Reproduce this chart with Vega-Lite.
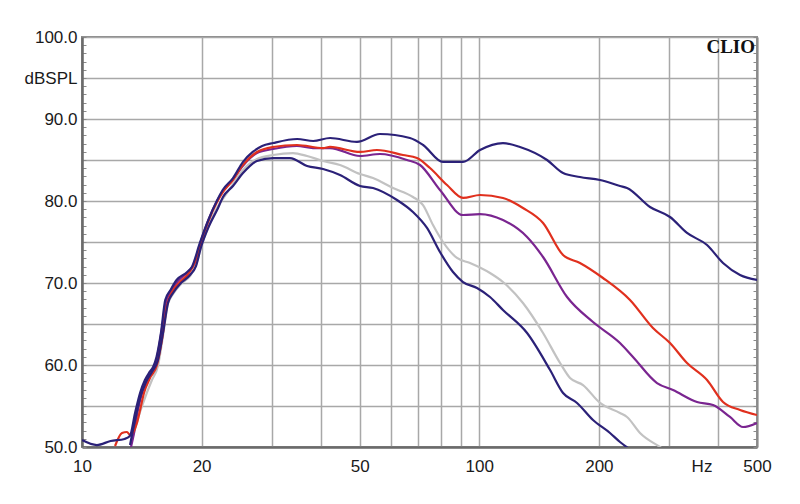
{
  "$schema": "https://vega.github.io/schema/vega-lite/v6.json",
  "autosize": {"type": "none"},
  "padding": {"left": 82, "top": 37, "right": 43, "bottom": 57},
  "width": 675,
  "height": 410,
  "background": "white",
  "config": {"view": {"stroke": "#8a8a8a", "strokeWidth": 2}},
  "datasets": {
    "curves": [
      {"series":"a_gray","hz":13.36,"db":50.85},{"series":"a_gray","hz":14.0,"db":54.27},{"series":"a_gray","hz":14.49,"db":56.34},{"series":"a_gray","hz":15.0,"db":58.17},{"series":"a_gray","hz":15.53,"db":59.88},{"series":"a_gray","hz":15.99,"db":63.54},{"series":"a_gray","hz":16.46,"db":67.44},{"series":"a_gray","hz":16.95,"db":68.66},{"series":"a_gray","hz":17.75,"db":69.88},{"series":"a_gray","hz":18.7,"db":70.85},{"series":"a_gray","hz":19.36,"db":72.2},{"series":"a_gray","hz":19.94,"db":74.39},{"series":"a_gray","hz":20.88,"db":77.07},{"series":"a_gray","hz":22.0,"db":79.39},{"series":"a_gray","hz":22.9,"db":80.61},{"series":"a_gray","hz":23.99,"db":82.07},{"series":"a_gray","hz":25.42,"db":83.78},{"series":"a_gray","hz":27.57,"db":85.12},{"series":"a_gray","hz":30.26,"db":85.61},{"series":"a_gray","hz":33.97,"db":85.85},{"series":"a_gray","hz":36.85,"db":85.49},{"series":"a_gray","hz":40.43,"db":84.88},{"series":"a_gray","hz":44.6,"db":84.39},{"series":"a_gray","hz":50.09,"db":83.29},{"series":"a_gray","hz":54.01,"db":82.8},{"series":"a_gray","hz":60.65,"db":81.59},{"series":"a_gray","hz":68.08,"db":80.49},{"series":"a_gray","hz":72.17,"db":79.51},{"series":"a_gray","hz":76.47,"db":77.07},{"series":"a_gray","hz":81.04,"db":75.0},{"series":"a_gray","hz":87.88,"db":73.05},{"series":"a_gray","hz":94.76,"db":72.44},{"series":"a_gray","hz":106.4,"db":71.22},{"series":"a_gray","hz":114.7,"db":70.12},{"series":"a_gray","hz":128.8,"db":67.56},{"series":"a_gray","hz":144.7,"db":63.9},{"series":"a_gray","hz":159.7,"db":60.24},{"series":"a_gray","hz":169.2,"db":58.41},{"series":"a_gray","hz":182.4,"db":57.56},{"series":"a_gray","hz":201.3,"db":55.37},{"series":"a_gray","hz":226,"db":54.15},{"series":"a_gray","hz":235.4,"db":53.66},{"series":"a_gray","hz":253.8,"db":51.71},{"series":"a_gray","hz":284.9,"db":50.0},{"series":"a_gray","hz":293,"db":49.6},
      {"series":"b_purple","hz":13.21,"db":49.5},{"series":"b_purple","hz":13.52,"db":51.71},{"series":"b_purple","hz":13.83,"db":54.51},{"series":"b_purple","hz":14.16,"db":56.59},{"series":"b_purple","hz":14.66,"db":58.41},{"series":"b_purple","hz":15.36,"db":60.37},{"series":"b_purple","hz":15.8,"db":63.66},{"series":"b_purple","hz":16.27,"db":67.68},{"series":"b_purple","hz":16.76,"db":69.02},{"series":"b_purple","hz":17.44,"db":70.24},{"series":"b_purple","hz":18.47,"db":71.34},{"series":"b_purple","hz":19.14,"db":72.32},{"series":"b_purple","hz":19.82,"db":74.76},{"series":"b_purple","hz":20.76,"db":77.56},{"series":"b_purple","hz":21.87,"db":80.0},{"series":"b_purple","hz":22.64,"db":81.22},{"series":"b_purple","hz":23.99,"db":82.68},{"series":"b_purple","hz":25.42,"db":84.3},{"series":"b_purple","hz":27.57,"db":85.85},{"series":"b_purple","hz":30.26,"db":86.34},{"series":"b_purple","hz":34.76,"db":86.71},{"series":"b_purple","hz":38.15,"db":86.46},{"series":"b_purple","hz":42.09,"db":86.46},{"series":"b_purple","hz":50.09,"db":85.49},{"series":"b_purple","hz":56.24,"db":85.73},{"series":"b_purple","hz":65.78,"db":85.0},{"series":"b_purple","hz":70.94,"db":84.39},{"series":"b_purple","hz":79.62,"db":81.34},{"series":"b_purple","hz":91.0,"db":78.29},{"series":"b_purple","hz":100.4,"db":78.41},{"series":"b_purple","hz":114.7,"db":77.68},{"series":"b_purple","hz":131.9,"db":75.61},{"series":"b_purple","hz":144.7,"db":73.17},{"series":"b_purple","hz":166.3,"db":68.29},{"series":"b_purple","hz":193.3,"db":65.24},{"series":"b_purple","hz":226,"db":62.68},{"series":"b_purple","hz":243.7,"db":60.98},{"series":"b_purple","hz":280.1,"db":57.8},{"series":"b_purple","hz":307.3,"db":56.95},{"series":"b_purple","hz":353.2,"db":55.49},{"series":"b_purple","hz":387.5,"db":55.12},{"series":"b_purple","hz":427.6,"db":53.66},{"series":"b_purple","hz":461.1,"db":52.44},{"series":"b_purple","hz":500,"db":52.93},
      {"series":"c_red","hz":12.11,"db":50.12},{"series":"c_red","hz":12.61,"db":51.71},{"series":"c_red","hz":12.98,"db":51.83},{"series":"c_red","hz":13.21,"db":51.46},{"series":"c_red","hz":13.75,"db":52.93},{"series":"c_red","hz":14.0,"db":54.51},{"series":"c_red","hz":14.32,"db":56.59},{"series":"c_red","hz":14.83,"db":58.41},{"series":"c_red","hz":15.44,"db":60.0},{"series":"c_red","hz":15.89,"db":63.05},{"series":"c_red","hz":16.37,"db":67.32},{"series":"c_red","hz":16.85,"db":68.9},{"series":"c_red","hz":17.65,"db":70.12},{"series":"c_red","hz":18.59,"db":71.22},{"series":"c_red","hz":19.25,"db":72.56},{"series":"c_red","hz":19.82,"db":74.63},{"series":"c_red","hz":20.76,"db":77.44},{"series":"c_red","hz":21.87,"db":79.88},{"series":"c_red","hz":22.64,"db":81.1},{"series":"c_red","hz":23.99,"db":82.56},{"series":"c_red","hz":25.42,"db":84.4},{"series":"c_red","hz":27.57,"db":85.98},{"series":"c_red","hz":30.26,"db":86.59},{"series":"c_red","hz":34.76,"db":86.83},{"series":"c_red","hz":40.43,"db":86.46},{"series":"c_red","hz":42.09,"db":86.59},{"series":"c_red","hz":50.09,"db":85.98},{"series":"c_red","hz":55.27,"db":86.22},{"series":"c_red","hz":64.27,"db":85.61},{"series":"c_red","hz":69.69,"db":85.24},{"series":"c_red","hz":75.15,"db":84.02},{"series":"c_red","hz":82.94,"db":81.95},{"series":"c_red","hz":91.0,"db":80.37},{"series":"c_red","hz":100.4,"db":80.73},{"series":"c_red","hz":114.7,"db":80.37},{"series":"c_red","hz":128.8,"db":79.15},{"series":"c_red","hz":144.7,"db":77.32},{"series":"c_red","hz":162.5,"db":73.41},{"series":"c_red","hz":179.2,"db":72.44},{"series":"c_red","hz":204.8,"db":70.61},{"series":"c_red","hz":239.5,"db":67.93},{"series":"c_red","hz":273.6,"db":64.51},{"series":"c_red","hz":302,"db":62.68},{"series":"c_red","hz":333.3,"db":60.24},{"series":"c_red","hz":374.3,"db":58.17},{"series":"c_red","hz":410.6,"db":55.49},{"series":"c_red","hz":453.2,"db":54.51},{"series":"c_red","hz":500,"db":53.9},
      {"series":"d_navy1","hz":10,"db":50.85},{"series":"d_navy1","hz":10.9,"db":50.24},{"series":"d_navy1","hz":11.8,"db":50.73},{"series":"d_navy1","hz":12.8,"db":50.98},{"series":"d_navy1","hz":13.2,"db":51.34},{"series":"d_navy1","hz":13.6,"db":54.15},{"series":"d_navy1","hz":14.0,"db":56.59},{"series":"d_navy1","hz":14.4,"db":58.17},{"series":"d_navy1","hz":14.8,"db":59.15},{"series":"d_navy1","hz":15.1,"db":59.76},{"series":"d_navy1","hz":15.4,"db":60.98},{"series":"d_navy1","hz":15.8,"db":63.9},{"series":"d_navy1","hz":16.2,"db":67.93},{"series":"d_navy1","hz":16.7,"db":69.15},{"series":"d_navy1","hz":17.3,"db":70.37},{"series":"d_navy1","hz":18.4,"db":71.34},{"series":"d_navy1","hz":18.9,"db":71.95},{"series":"d_navy1","hz":19.8,"db":74.88},{"series":"d_navy1","hz":20.8,"db":77.68},{"series":"d_navy1","hz":21.9,"db":80.12},{"series":"d_navy1","hz":22.6,"db":81.34},{"series":"d_navy1","hz":24.0,"db":82.8},{"series":"d_navy1","hz":25.4,"db":84.75},{"series":"d_navy1","hz":26.9,"db":85.98},{"series":"d_navy1","hz":28.4,"db":86.71},{"series":"d_navy1","hz":30.3,"db":87.07},{"series":"d_navy1","hz":34.8,"db":87.56},{"series":"d_navy1","hz":38.2,"db":87.32},{"series":"d_navy1","hz":42.1,"db":87.68},{"series":"d_navy1","hz":49.2,"db":87.2},{"series":"d_navy1","hz":56.2,"db":88.17},{"series":"d_navy1","hz":66.9,"db":87.68},{"series":"d_navy1","hz":72.2,"db":86.83},{"series":"d_navy1","hz":81.0,"db":84.76},{"series":"d_navy1","hz":91.0,"db":84.76},{"series":"d_navy1","hz":100.4,"db":86.22},{"series":"d_navy1","hz":114.7,"db":87.07},{"series":"d_navy1","hz":126.6,"db":86.59},{"series":"d_navy1","hz":148.1,"db":85.0},{"series":"d_navy1","hz":162.5,"db":83.41},{"series":"d_navy1","hz":179.2,"db":82.93},{"series":"d_navy1","hz":201.3,"db":82.56},{"series":"d_navy1","hz":226,"db":81.83},{"series":"d_navy1","hz":235.4,"db":81.59},{"series":"d_navy1","hz":268.9,"db":79.27},{"series":"d_navy1","hz":302,"db":78.05},{"series":"d_navy1","hz":333.3,"db":76.1},{"series":"d_navy1","hz":374.3,"db":74.63},{"series":"d_navy1","hz":410.6,"db":72.44},{"series":"d_navy1","hz":453.2,"db":70.98},{"series":"d_navy1","hz":500,"db":70.37},
      {"series":"e_navy2","hz":13.21,"db":50.24},{"series":"e_navy2","hz":13.6,"db":53.29},{"series":"e_navy2","hz":14.0,"db":55.98},{"series":"e_navy2","hz":14.49,"db":57.93},{"series":"e_navy2","hz":15.0,"db":59.15},{"series":"e_navy2","hz":15.53,"db":60.61},{"series":"e_navy2","hz":15.99,"db":63.9},{"series":"e_navy2","hz":16.46,"db":67.56},{"series":"e_navy2","hz":16.95,"db":68.78},{"series":"e_navy2","hz":17.75,"db":70.0},{"series":"e_navy2","hz":18.7,"db":70.98},{"series":"e_navy2","hz":19.36,"db":72.07},{"series":"e_navy2","hz":19.94,"db":74.39},{"series":"e_navy2","hz":20.88,"db":76.95},{"series":"e_navy2","hz":22.0,"db":79.15},{"series":"e_navy2","hz":22.64,"db":80.49},{"series":"e_navy2","hz":23.99,"db":81.83},{"series":"e_navy2","hz":25.42,"db":83.41},{"series":"e_navy2","hz":27.57,"db":84.88},{"series":"e_navy2","hz":30.26,"db":85.24},{"series":"e_navy2","hz":33.38,"db":85.24},{"series":"e_navy2","hz":36.85,"db":84.27},{"series":"e_navy2","hz":40.43,"db":83.9},{"series":"e_navy2","hz":44.6,"db":83.17},{"series":"e_navy2","hz":50.09,"db":81.83},{"series":"e_navy2","hz":54.01,"db":81.59},{"series":"e_navy2","hz":62.07,"db":80.12},{"series":"e_navy2","hz":68.08,"db":78.66},{"series":"e_navy2","hz":73.86,"db":76.71},{"series":"e_navy2","hz":79.62,"db":73.78},{"series":"e_navy2","hz":85.87,"db":71.34},{"series":"e_navy2","hz":91.0,"db":70.12},{"series":"e_navy2","hz":98.68,"db":69.39},{"series":"e_navy2","hz":106.4,"db":68.29},{"series":"e_navy2","hz":114.7,"db":66.71},{"series":"e_navy2","hz":131.9,"db":63.9},{"series":"e_navy2","hz":150.7,"db":59.39},{"series":"e_navy2","hz":162.5,"db":56.59},{"series":"e_navy2","hz":176.2,"db":55.37},{"series":"e_navy2","hz":193.3,"db":53.29},{"series":"e_navy2","hz":213.3,"db":51.71},{"series":"e_navy2","hz":226,"db":50.61},{"series":"e_navy2","hz":236.7,"db":49.88}
    ],
    "brand": [{"hz": 500, "db": 98, "label": "CLIO"}]
  },
  "layer": [
    {
      "data": {"name": "curves"},
      "mark": {"type": "line", "strokeWidth": 2.2, "clip": true, "interpolate": "monotone"},
      "encoding": {
        "x": {
          "field": "hz", "type": "quantitative",
          "scale": {"type": "log", "domain": [10, 500], "nice": false},
          "axis": {
            "title": null,
            "values": [10, 20, 30, 40, 50, 60, 70, 80, 90, 100, 200, 300, 400, 500],
            "labelExpr": "datum.value == 400 ? 'Hz' : (indexof([10, 20, 50, 100, 200, 500], datum.value) >= 0 ? datum.label : '')",
            "format": "d",
            "ticks": false,
            "labelPadding": 11,
            "labelOverlap": false,
            "labelFlush": false,
            "labelBound": false,
            "labelOffset": {"condition": {"test": "datum.value == 400", "value": -17}, "value": 0},
            "labelFont": "Liberation Sans",
            "labelFontSize": 17,
            "labelColor": "#1a1a1a",
            "grid": true,
            "gridColor": "#a8a8a8",
            "gridWidth": 1.5,
            "domainColor": "#6b6b6b",
            "domainWidth": 2.5
          }
        },
        "y": {
          "field": "db", "type": "quantitative",
          "scale": {"domain": [50, 100], "nice": false, "zero": false},
          "axis": {
            "title": null,
            "orient": "left",
            "values": [50,51,52,53,54,55,56,57,58,59,60,61,62,63,64,65,66,67,68,69,70,71,72,73,74,75,76,77,78,79,80,81,82,83,84,85,86,87,88,89,90,91,92,93,94,95,96,97,98,99,100],
            "labelExpr": "datum.value == 95 ? 'dBSPL' : (datum.value % 10 == 0 ? format(datum.value, '.1f') : '')",
            "labelOverlap": false,
            "labelFlush": false,
            "labelBound": false,
            "labelFont": "Liberation Sans",
            "labelFontSize": 17,
            "labelColor": "#1a1a1a",
            "tickSize": -4,
            "tickColor": "#8a8a8a",
            "tickWidth": 1,
            "labelPadding": 9,
            "grid": true,
            "gridColor": {"condition": {"test": "datum.value % 5 == 0", "value": "#a8a8a8"}, "value": "transparent"},
            "gridWidth": 1.5,
            "domainColor": "#6b6b6b",
            "domainWidth": 2.5
          }
        },
        "color": {
          "field": "series", "type": "nominal",
          "scale": {"domain": ["a_gray", "b_purple", "c_red", "d_navy1", "e_navy2"], "range": ["#c2c2c2", "#7a2590", "#e0301e", "#2b2178", "#2b2178"]},
          "legend": null
        }
      }
    },
    {
      "data": {"name": "brand"},
      "mark": {"type": "text", "font": "Liberation Serif", "fontWeight": "bold", "fontSize": 19, "align": "right", "baseline": "alphabetic", "dx": -2, "color": "#111"},
      "encoding": {
        "x": {"field": "hz", "type": "quantitative"},
        "y": {
          "field": "db", "type": "quantitative",
          "axis": {
            "title": null,
            "orient": "right",
            "values": [50,51,52,53,54,55,56,57,58,59,60,61,62,63,64,65,66,67,68,69,70,71,72,73,74,75,76,77,78,79,80,81,82,83,84,85,86,87,88,89,90,91,92,93,94,95,96,97,98,99,100],
            "labels": false,
            "grid": false,
            "tickSize": -4,
            "tickColor": "#8a8a8a",
            "tickWidth": 1,
            "domainColor": "#8a8a8a",
            "domainWidth": 2
          }
        },
        "text": {"field": "label"}
      }
    }
  ],
  "resolve": {"axis": {"y": "independent"}}
}
